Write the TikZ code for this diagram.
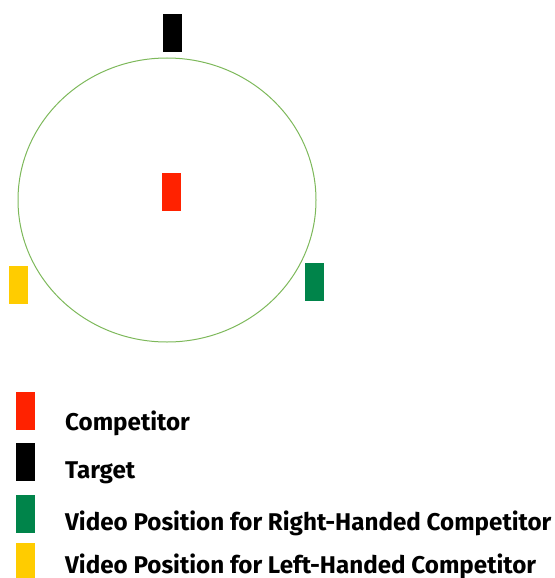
\documentclass[tikz,border=0pt]{standalone}
\usepackage{fontspec}
\setmainfont{Fira Sans}
\definecolor{cred}{HTML}{FF2200}
\definecolor{cgreen}{HTML}{00844A}
\definecolor{cyellow}{HTML}{FFCC00}
\definecolor{cring}{HTML}{7DB85A}
\begin{document}
\begin{tikzpicture}[x=1pt,y=-1pt,
  marker/.style={rectangle,minimum width=19pt,minimum height=38pt,inner sep=0pt,draw=none},
  legendtext/.style={anchor=base west,inner sep=0pt,font=\fontsize{24.2}{26}\selectfont\bfseries}]
\useasboundingbox (0,0) rectangle (554,578);
\draw[cring,line width=1pt] (167,200) ellipse [x radius=149, y radius=142];
\node[marker,fill=black] (target) at (172.5,33) {};
\node[marker,fill=cred] (comp) at (171.5,192) {};
\node[marker,fill=cyellow] (left) at (18.5,285) {};
\node[marker,fill=cgreen] (right) at (314.5,281.5) {};
\node[marker,fill=cred] (lred) at (25,411) {};
\node[marker,fill=black] (lblack) at (25,462) {};
\node[marker,fill=cgreen] (lgreen) at (25,513.5) {};
\node[marker,fill=cyellow] (lyellow) at (25,562) {};
\node[legendtext] (t1) at (65,430) {Competitor};
\node[legendtext] (t2) at (65,478) {Target};
\node[legendtext] (t3) at (65,530) {Video Position for Right-Handed Competitor};
\node[legendtext] (t4) at (65,573) {Video Position for Left-Handed Competitor};
\end{tikzpicture}
\end{document}
